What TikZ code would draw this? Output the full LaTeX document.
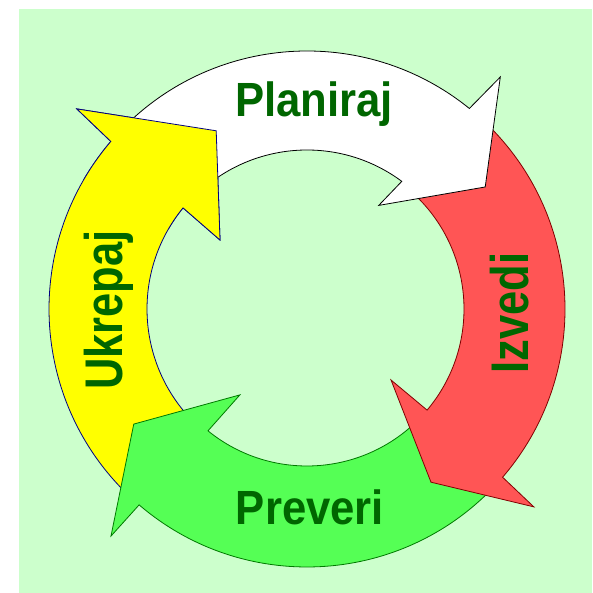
\documentclass[tikz,border=0pt]{standalone}
\usepackage{fontspec}
\newfontfamily\hfont[FakeStretch=0.91]{Liberation Sans}
\newfontfamily\vfont[FakeStretch=0.82]{Liberation Sans}
\definecolor{bggreen}{RGB}{204,255,204}
\definecolor{lblgreen}{RGB}{0,102,0}
\definecolor{redfill}{RGB}{255,85,85}
\definecolor{redline}{RGB}{128,0,0}
\definecolor{greenfill}{RGB}{85,255,85}
\definecolor{greenline}{RGB}{0,120,0}
\definecolor{yellowfill}{RGB}{255,255,0}
\definecolor{yellowline}{RGB}{0,0,128}

\begin{document}
\begin{tikzpicture}[x=1pt, y=1pt,
    band/.style={line width=0.8pt, line join=miter},
    hlabel/.style={anchor=base, inner sep=0pt, text=lblgreen,
        font=\hfont\bfseries\fontsize{48}{48}\selectfont},
    vlabel/.style={anchor=base, rotate=90, inner sep=0pt, text=lblgreen,
        font=\vfont\bfseries\fontsize{53}{53}\selectfont}]
    \useasboundingbox (0,0) rectangle (592,593);

    % 背景
    \fill[bggreen] (19,0) rectangle (592,584);

    % --- 四个弧形箭头 (每个箭头头部压在下一个的尾部上) ---
    \begin{scope}[shift={(307,284)}]
        % 左：Ukrepaj
        \filldraw[band, fill=yellowfill, draw=yellowline]
            (-134:258) arc[start angle=-134, end angle=-220.5, radius=258]
            -- (-221:305) -- (-243:200) -- (-218.4:111) -- (-219.2:160)
            arc[start angle=-219.2, end angle=-134, radius=160] -- cycle;

        % 下：Preveri
        \filldraw[band, fill=greenfill, draw=greenline]
            (-44:258) arc[start angle=-44, end angle=-130.6, radius=258]
            -- (-130.8:300) -- (-146.4:208) -- (-128:109) -- (-129.1:157)
            arc[start angle=-129.1, end angle=-44, radius=157] -- cycle;

        % 右：Izvedi
        \filldraw[band, fill=redfill, draw=redline]
            (48:258) arc[start angle=48, end angle=-40.7, radius=258]
            -- (-41.1:301) -- (-54.4:213) -- (-40.2:110) -- (-40.1:157)
            arc[start angle=-40.1, end angle=48, radius=157] -- cycle;

        % 上：Planiraj
        \filldraw[band, fill=white, draw=black]
            (137:258) arc[start angle=137, end angle=51, radius=258]
            -- (50.2:302) -- (34.4:216) -- (55.3:126) -- (53.4:159)
            arc[start angle=53.4, end angle=137, radius=159] -- cycle;

        % 黄色箭头头部再画一次，压在白色尾部上
        \begin{scope}
            \clip (0,0) -- (150:340) arc[start angle=150, end angle=108, radius=340] -- cycle;
            \filldraw[band, fill=yellowfill, draw=yellowline]
                (-134:258) arc[start angle=-134, end angle=-220.5, radius=258]
                -- (-221:305) -- (-243:200) -- (-218.4:111) -- (-219.2:160)
                arc[start angle=-219.2, end angle=-134, radius=160] -- cycle;
        \end{scope}
    \end{scope}

    % 标签
    \node[hlabel] (planiraj) at (314,476) {Planiraj};
    \node[vlabel] (izvedi) at (528,280) {Izvedi};
    \node[hlabel] (preveri) at (310,68) {Preveri};
    \node[vlabel] (ukrepaj) at (122,283) {Ukrepaj};
\end{tikzpicture}
\end{document}
